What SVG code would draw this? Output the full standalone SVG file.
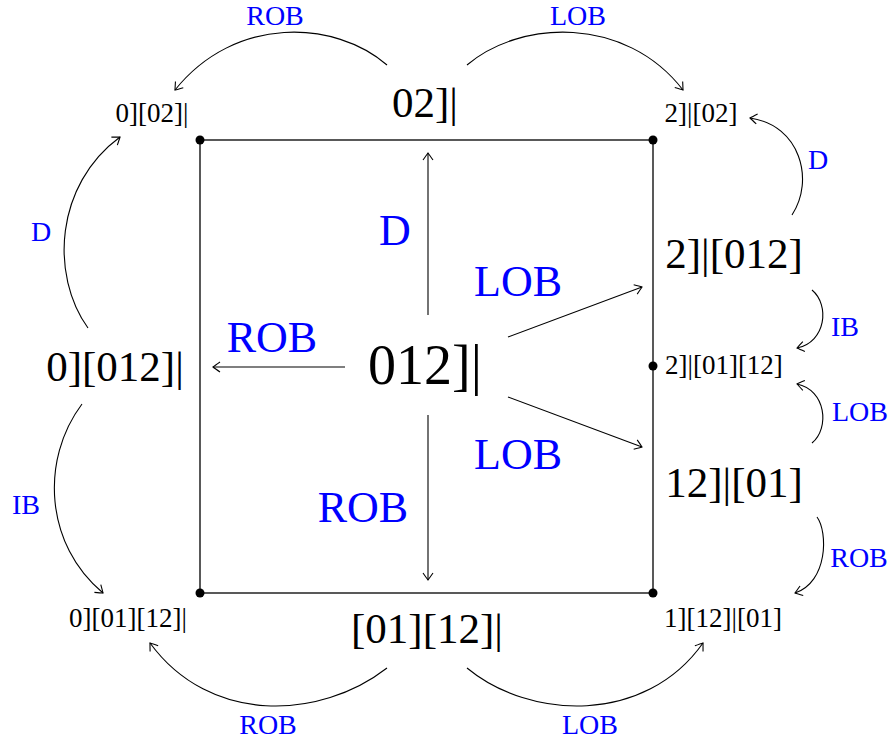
<svg xmlns="http://www.w3.org/2000/svg" width="896" height="745" viewBox="0 0 896 745">
<defs>
<marker id="ah" viewBox="-10 -6 12 12" markerWidth="12" markerHeight="12" refX="0" refY="0" orient="auto" markerUnits="userSpaceOnUse">
<path d="M-7,-5 Q-2,-1.5 0,0 Q-2,1.5 -7,5" fill="none" stroke="#000" stroke-width="1.1"/>
</marker>
<style>
text{font-family:"Liberation Serif","DejaVu Serif",serif;fill:#000}
.big{font-size:56px}
.mid{font-size:43px}
.sm{font-size:27px}
.lb{fill:#0000ff;font-size:44px}
.ls{fill:#0000ff;font-size:28px}
.ar{fill:none;stroke:#000;stroke-width:1.1;marker-end:url(#ah)}
.sq{fill:none;stroke:#000;stroke-width:1.3}
</style>
</defs>
<g id="square">
<rect class="sq" x="200" y="140" width="453" height="453"/>
<circle cx="200" cy="140" r="4.5"/>
<circle cx="653" cy="140" r="4.5"/>
<circle cx="653" cy="593" r="4.5"/>
<circle cx="200" cy="593" r="4.5"/>
<circle cx="653" cy="366" r="4.5"/>
</g>
<g id="connectors">
<path class="ar" d="M428,315 L428,153"/>
<path class="ar" d="M428,415 L428,580"/>
<path class="ar" d="M345,367 L213,367"/>
<path class="ar" d="M508,337 L642,287"/>
<path class="ar" d="M508,397 L642,447"/>
<path class="ar" d="M387,65 C335,20 235,15 175,90"/>
<path class="ar" d="M467,65 C520,20 625,15 683,90"/>
<path class="ar" d="M88,328 C50,275 55,185 120,137"/>
<path class="ar" d="M82,404 C40,460 45,545 103,593"/>
<path class="ar" d="M387,668 C320,720 210,725 150,643"/>
<path class="ar" d="M467,668 C530,720 645,725 703,643"/>
<path class="ar" d="M792,215 C815,180 800,125 750,118"/>
<path class="ar" d="M812,290 C830,305 826,342 797,348"/>
<path class="ar" d="M812,443 C830,428 826,390 797,384"/>
<path class="ar" d="M817,517 C828,532 828,582 795,593"/>
</g>
<g id="labels-edges">
<text class="lb" x="395" y="245" text-anchor="middle">D</text>
<text class="lb" x="518" y="296" text-anchor="middle">LOB</text>
<text class="lb" x="272" y="352" text-anchor="middle">ROB</text>
<text class="lb" x="518" y="469" text-anchor="middle">LOB</text>
<text class="lb" x="363" y="522" text-anchor="middle">ROB</text>
<text class="ls" x="275" y="25" text-anchor="middle">ROB</text>
<text class="ls" x="578" y="25" text-anchor="middle">LOB</text>
<text class="ls" x="41" y="241" text-anchor="middle">D</text>
<text class="ls" x="818" y="169" text-anchor="middle">D</text>
<text class="ls" x="845" y="336" text-anchor="middle">IB</text>
<text class="ls" x="860" y="421" text-anchor="middle">LOB</text>
<text class="ls" x="859" y="567" text-anchor="middle">ROB</text>
<text class="ls" x="26" y="514" text-anchor="middle">IB</text>
<text class="ls" x="268" y="734" text-anchor="middle">ROB</text>
<text class="ls" x="590" y="734" text-anchor="middle">LOB</text>
</g>
<g id="n012"><text class="big" x="425" y="384" text-anchor="middle">012]|</text></g>
<g id="n02"><text class="mid" x="425" y="117" text-anchor="middle">02]|</text></g>
<g id="n0_012"><text class="mid" x="115" y="381" text-anchor="middle">0][012]|</text></g>
<g id="n2_012"><text class="mid" x="734" y="268" text-anchor="middle">2]|[012]</text></g>
<g id="n12_01"><text class="mid" x="734" y="497" text-anchor="middle">12]|[01]</text></g>
<g id="n01_12"><text class="mid" x="427" y="643" text-anchor="middle">[01][12]|</text></g>
<g id="n0_02"><text class="sm" x="152" y="122" text-anchor="middle">0][02]|</text></g>
<g id="n2_02"><text class="sm" x="701" y="122" text-anchor="middle">2]|[02]</text></g>
<g id="n2_01_12"><text class="sm" x="665" y="374">2]|[01][12]</text></g>
<g id="n0_01_12"><text class="sm" x="128" y="627" text-anchor="middle">0][01][12]|</text></g>
<g id="n1_12_01"><text class="sm" x="723" y="627" text-anchor="middle">1][12]|[01]</text></g>
</svg>
